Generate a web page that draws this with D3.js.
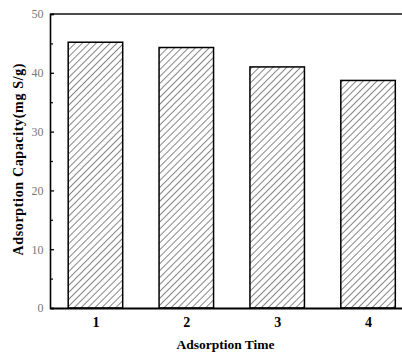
<!DOCTYPE html>
<html><head><meta charset="utf-8">
<script src="https://cdn.jsdelivr.net/npm/d3@7/dist/d3.min.js"></script>
<style>body{margin:0;background:#fff}svg{display:block}</style>
</head><body>
<svg id="c" width="402" height="354"></svg>
<script>
const categories = [1, 2, 3, 4];
const values = [45.2, 44.3, 41.0, 38.7];
const yTicks = [0, 10, 20, 30, 40, 50];
const yMinor = [5, 15, 25, 35, 45];
const xTitle = "Adsorption Time";
const yTitle = "Adsorption Capacity(mg S/g)";

const serif = "'Liberation Serif','Times New Roman',serif";
const svg = d3.select("#c");
const x = d3.scaleLinear().domain([0.5, 4.5]).range([50, 413.5]);
const y = d3.scaleLinear().domain([0, 50]).range([308, 14]);
const bw = 54.5;

const hs = 4.9;
const defs = svg.append("defs");
const pat = defs.append("pattern").attr("id","hatch").attr("patternUnits","userSpaceOnUse")
  .attr("width",hs).attr("height",hs).attr("patternTransform","rotate(45)");
pat.append("rect").attr("width",hs).attr("height",hs).attr("fill","#fff");
pat.append("line").attr("x1",0).attr("y1",0).attr("x2",0).attr("y2",hs)
  .attr("stroke","#222").attr("stroke-width",1.1);

// bars
svg.selectAll("rect.bar").data(values).join("rect").attr("class","bar")
  .attr("x",(d,i)=>x(categories[i])-bw/2).attr("width",bw)
  .attr("y",d=>y(d)).attr("height",d=>y(0)-y(d))
  .attr("fill","url(#hatch)").attr("stroke","#000").attr("stroke-width",1.5);

// top border
svg.append("line").attr("x1",x(0.5)).attr("x2",x(4.5)).attr("y1",y(50)).attr("y2",y(50))
  .attr("stroke","#111").attr("stroke-width",1.6);

// left axis
const yAxis = d3.axisLeft(y).tickValues(yTicks).tickSize(-4).tickPadding(6.5).tickFormat(d3.format("d"));
const gy = svg.append("g").attr("transform",`translate(${x(0.5)},0)`).call(yAxis);
gy.select(".domain").attr("stroke","#000").attr("stroke-width",1.6);
gy.selectAll(".tick line").attr("stroke","#000").attr("stroke-width",1.3);
gy.selectAll(".tick text").attr("font-family",serif)
  .attr("font-size",12).attr("fill","#777");
const gyM = svg.append("g").attr("transform",`translate(${x(0.5)},0)`)
  .call(d3.axisLeft(y).tickValues(yMinor).tickSize(-3).tickFormat(""));
gyM.select(".domain").remove();
gyM.selectAll(".tick line").attr("stroke","#000").attr("stroke-width",1.2);

// bottom axis
const xAxis = d3.axisBottom(x).tickValues(categories).tickSize(0).tickPadding(9).tickFormat(d3.format("d"));
const gx = svg.append("g").attr("transform",`translate(0,${y(0)})`).call(xAxis);
gx.select(".domain").attr("stroke","#000").attr("stroke-width",2.2);
gx.selectAll(".tick text").attr("font-family",serif)
  .attr("font-size",14).attr("font-weight","bold").attr("fill","#000");

// titles
svg.append("text").attr("x",225.5).attr("y",348.5).attr("text-anchor","middle")
  .attr("font-family",serif).attr("font-weight","bold")
  .attr("font-size",13.5).text(xTitle);
svg.append("text").attr("transform",`translate(23,159.5) rotate(-90)`).attr("text-anchor","middle")
  .attr("font-family",serif).attr("font-weight","bold")
  .attr("font-size",14).attr("textLength",192).attr("lengthAdjust","spacing").text(yTitle);
</script>
</body></html>
